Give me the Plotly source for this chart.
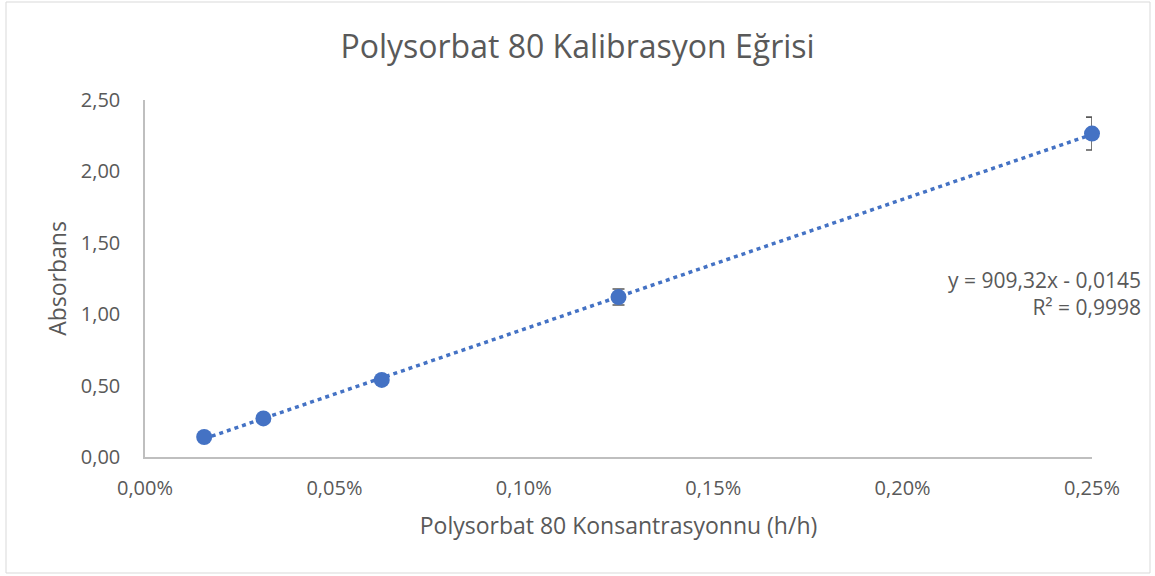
import numpy as np
import plotly.graph_objects as go

# Data
concentration = [0.00015625, 0.0003125, 0.000625, 0.00125, 0.0025]  # h/h (fraction)
absorbance = [0.14, 0.27, 0.54, 1.12, 2.265]
abs_error = [0.01, 0.01, 0.012, 0.056, 0.115]
slope = 909.32
intercept = -0.0145
r_squared = "0,9998"

x_ticks = [0, 0.0005, 0.001, 0.0015, 0.002, 0.0025]
y_ticks = [0, 0.5, 1.0, 1.5, 2.0, 2.5]

blue = "#4472C4"
grey_txt = "#595959"
axis_col = "#BFBFBF"
FONT = "Open Sans"

fig = go.Figure()

# trendline from fitted coefficients across the data range
x_tr = np.array([min(concentration), max(concentration)])
y_tr = slope * x_tr + intercept
fig.add_trace(go.Scatter(
    x=x_tr, y=y_tr, mode="lines",
    line=dict(color=blue, width=3.5, dash="4px,4px"),
    hoverinfo="skip", showlegend=False, cliponaxis=False,
))

fig.add_trace(go.Scatter(
    x=concentration, y=absorbance, mode="markers",
    marker=dict(color=blue, size=16),
    error_y=dict(type="data", array=abs_error, visible=True,
                 color=grey_txt, thickness=1.6, width=6),
    showlegend=False, cliponaxis=False,
))

# Plot area in pixels: x 145..1092, y 100..457
L, R, T, B = 145, 63, 100, 119
W, H = 1155, 576
pw, ph = W - L - R, H - T - B

def px_to_paper_x(px):
    return (px - L) / pw

def px_to_paper_y(py):
    return (H - B - py) / ph

fig.add_shape(type="rect", xref="paper", yref="paper",
              x0=px_to_paper_x(6), x1=px_to_paper_x(1150),
              y0=px_to_paper_y(573), y1=px_to_paper_y(2),
              line=dict(color="#D9D9D9", width=1), layer="below")

fig.add_annotation(
    xref="paper", yref="paper",
    x=px_to_paper_x(1143), y=px_to_paper_y(293),
    xanchor="right", yanchor="middle", align="right", showarrow=False,
    text=f"y = {str(slope).replace('.', ',')}x - {str(abs(intercept)).replace('.', ',')}<br>R² = {r_squared}",
    font=dict(family=FONT, size=21, color=grey_txt),
)

fig.update_layout(
    width=W, height=H,
    margin=dict(l=L, r=R, t=T, b=B),
    paper_bgcolor="white", plot_bgcolor="white",
    separators=",.",
    font=dict(family=FONT, color=grey_txt),
    title=dict(text="Polysorbat 80 Kalibrasyon Eğrisi",
               x=0.5, xref="container", xanchor="center",
               y=1 - 47 / H, yref="container", yanchor="middle",
               font=dict(family=FONT, size=32, color=grey_txt)),
    xaxis=dict(range=[0, 0.0025], tickvals=x_ticks, tickformat=".2%",
               showgrid=False, zeroline=False, showline=True,
               linecolor=axis_col, linewidth=1.5, ticks="",
               ticklabelstandoff=12,
               tickfont=dict(family=FONT, size=20, color=grey_txt),
               title=dict(text="Polysorbat 80 Konsantrasyonnu (h/h)",
                          font=dict(family=FONT, size=23, color=grey_txt),
                          standoff=18)),
    yaxis=dict(range=[0, 2.5], tickvals=y_ticks, tickformat=".2f",
               showgrid=False, zeroline=False, showline=True,
               linecolor=axis_col, linewidth=1.5, ticks="",
               ticklabelstandoff=19,
               tickfont=dict(family=FONT, size=20, color=grey_txt),
               title=dict(text="Absorbans",
                          font=dict(family=FONT, size=23, color=grey_txt),
                          standoff=8)),
)

fig.write_html("out.html", config={"displayModeBar": False},
               post_script="document.body.style.margin='0';")
